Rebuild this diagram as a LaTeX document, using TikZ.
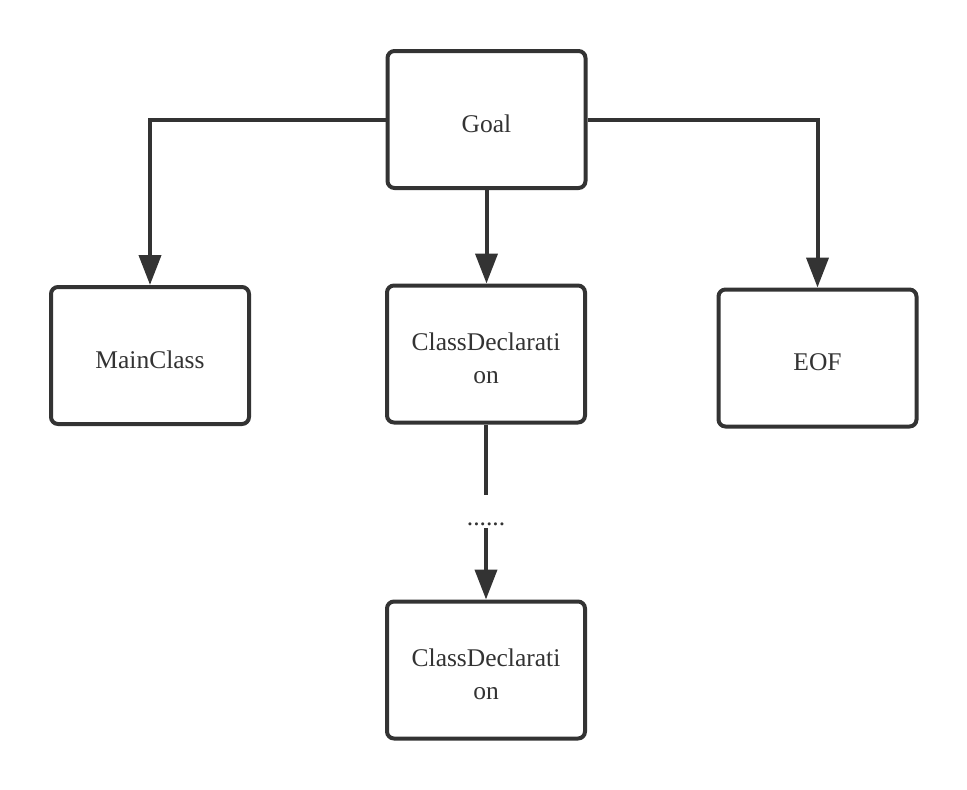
\documentclass[tikz,border=0pt]{standalone}
\usepackage{fontspec}
\setmainfont{Liberation Serif}
\usetikzlibrary{arrows.meta,positioning}
\definecolor{ink}{HTML}{333333}
\newcommand{\boxtxt}[1]{\raisebox{-6pt}[\height][\depth]{\begin{tabular}{@{}c@{}}#1\end{tabular}}}
\begin{document}
\begin{tikzpicture}[x=1pt,y=1pt,
  box/.style={draw=ink, line width=4pt, rounded corners=7pt, fill=white,
    minimum width=198pt, minimum height=137pt, inner sep=0pt,
    text=ink, font=\fontsize{25.5pt}{33pt}\selectfont},
  conn/.style={draw=ink, line width=4pt},
  arr/.style={conn, -{Triangle[length=30pt,width=22pt]}},
  lbl/.style={text=ink, font=\fontsize{25.5pt}{33pt}\selectfont, inner sep=0pt}
]
\useasboundingbox (0,0) rectangle (967,-790);
\node[box] (goal) at (486.5,-119.5) {\boxtxt{Goal}};
\node[box] (main) at (150,-355.5) {\boxtxt{MainClass}};
\node[box] (cd1) at (486,-354) {\boxtxt{ClassDeclarati\\on}};
\node[box] (eof) at (817.5,-358) {\boxtxt{EOF}};
\node[box] (cd2) at (486,-670) {\boxtxt{ClassDeclarati\\on}};
\coordinate (g1) at (486,-495);
\coordinate (g2) at (486,-528);
\node[lbl, anchor=base] (dots) at (486,-525) {......};
\draw[arr] (goal.west) -| (main.north);
\draw[arr] (goal.east) -| (eof.north);
\draw[arr] (goal.south) -- (goal.south |- cd1.north);
\draw[conn] (cd1.south) -- (g1);
\draw[arr] (g2) -- (cd2.north);
\end{tikzpicture}
\end{document}
